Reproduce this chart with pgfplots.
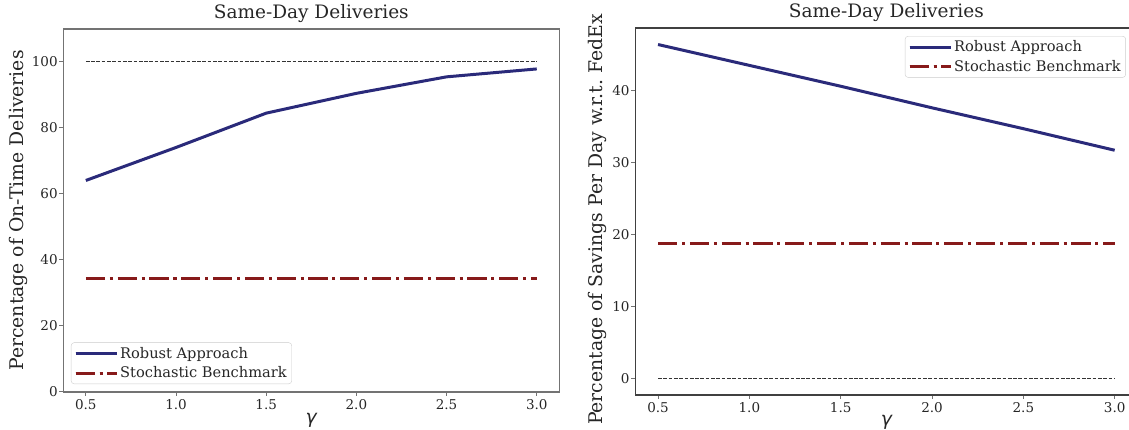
\documentclass[border=0pt]{standalone}
\usepackage{fontspec}
\setmainfont{DejaVu Serif}
\newfontfamily\dvsans{DejaVu Sans}
\usepackage{pgfplots}
\pgfplotsset{compat=1.18}

\definecolor{robust}{RGB}{42,42,122}
\definecolor{stoch}{RGB}{135,26,26}
\definecolor{txt}{RGB}{38,38,38}

\pgfplotsset{
  sameday/.style={
    scale only axis,
    anchor=south west,
    xmin=0.375, xmax=3.125,
    xtick={0.5,1,1.5,2,2.5,3},
    xticklabels={0.5,1.0,1.5,2.0,2.5,3.0},
    tick align=outside, xtick pos=bottom, ytick pos=left,
    major tick length=4pt,
    tick style={line width=1pt, color=black!55},
    /pgf/number format/assume math mode=true,
    ticklabel style={font=\fontsize{13.5}{16}\selectfont, text=txt, inner sep=1.5pt},
    xticklabel style={yshift=-2pt},
    title style={font=\fontsize{18.5}{22}\selectfont, text=txt,
      at={(axis description cs:0.5,1)}, anchor=base, yshift=4pt},
    label style={font=\fontsize{18.8}{22}\selectfont, text=txt},
    xlabel={{\dvsans\itshape γ}},
    legend cell align=left,
    legend image code/.code={\draw[#1] (0pt,0pt) -- (33pt,0pt); \path (0pt,0pt) -- (41pt,0pt);},
    legend style={draw=black!20, rounded corners=3pt, fill=white,
      fill opacity=0.8, text opacity=1, text=txt,
      font=\fontsize{14.6}{17}\selectfont, row sep=3pt,
      inner xsep=3pt, inner ysep=2.5pt,
      nodes={inner sep=2pt}},
  },
  robustline/.style={robust, line width=3pt},
  stochline/.style={stoch, line width=3pt, dash pattern=on 19.2pt off 4.8pt on 3pt off 4.8pt},
  refline/.style={black!80, line width=1pt, dash pattern=on 3.7pt off 1.6pt},
}

\begin{document}
\begin{tikzpicture}
\useasboundingbox (0,0) rectangle (1129pt,430pt);

% left panel: on-time deliveries
\begin{axis}[
  sameday,
  at={(63.3pt,38pt)},
  width=496pt, height=363pt,
  ymin=0, ymax=110,
  ytick={0,20,40,60,80,100},
  axis line style={line width=1.2pt, black!55},
  title={Same-Day Deliveries},
  ylabel={Percentage of On-Time Deliveries},
  ylabel style={at={(axis description cs:-0.09,0.5)}, anchor=center},
  xlabel style={at={(axis description cs:0.5,-0.077)}, anchor=center},
  legend style={at={(axis description cs:0.0155,0.022)}, anchor=south west},
]
\addplot[refline, forget plot] coordinates {(0.5,100)(3,100)};
\addplot[robustline] coordinates {
  (0.5,64.1)(1,74.1)(1.5,84.5)(2,90.5)(2.5,95.5)(3,97.9)
};
\addlegendentry{Robust Approach}
\addplot[stochline] coordinates {
  (0.5,34.5)(1,34.5)(1.5,34.5)(2,34.5)(2.5,34.5)(3,34.5)
};
\addlegendentry{Stochastic Benchmark}
\end{axis}

% right panel: savings w.r.t. FedEx
\begin{axis}[
  sameday,
  at={(635.2pt,35pt)},
  width=502.3pt, height=367pt,
  ymin=-2.33, ymax=48.7,
  ytick={0,10,20,30,40},
  axis line style={line width=1.2pt, black!75},
  title={Same-Day Deliveries},
  ylabel={Percentage of Savings Per Day w.r.t.\ FedEx},
  ylabel style={at={(axis description cs:-0.0757,0.478)}, anchor=center},
  xlabel style={at={(axis description cs:0.5,-0.074)}, anchor=center},
  legend style={at={(axis description cs:0.537,0.978)}, anchor=north west},
]
\addplot[refline, forget plot] coordinates {(0.5,0)(3,0)};
\addplot[robustline] coordinates {
  (0.5,46.4)(1,43.5)(1.5,40.6)(2,37.6)(2.5,34.7)(3,31.7)
};
\addlegendentry{Robust Approach}
\addplot[stochline] coordinates {
  (0.5,18.7)(1,18.7)(1.5,18.7)(2,18.7)(2.5,18.7)(3,18.7)
};
\addlegendentry{Stochastic Benchmark}
\end{axis}
\end{tikzpicture}
\end{document}
